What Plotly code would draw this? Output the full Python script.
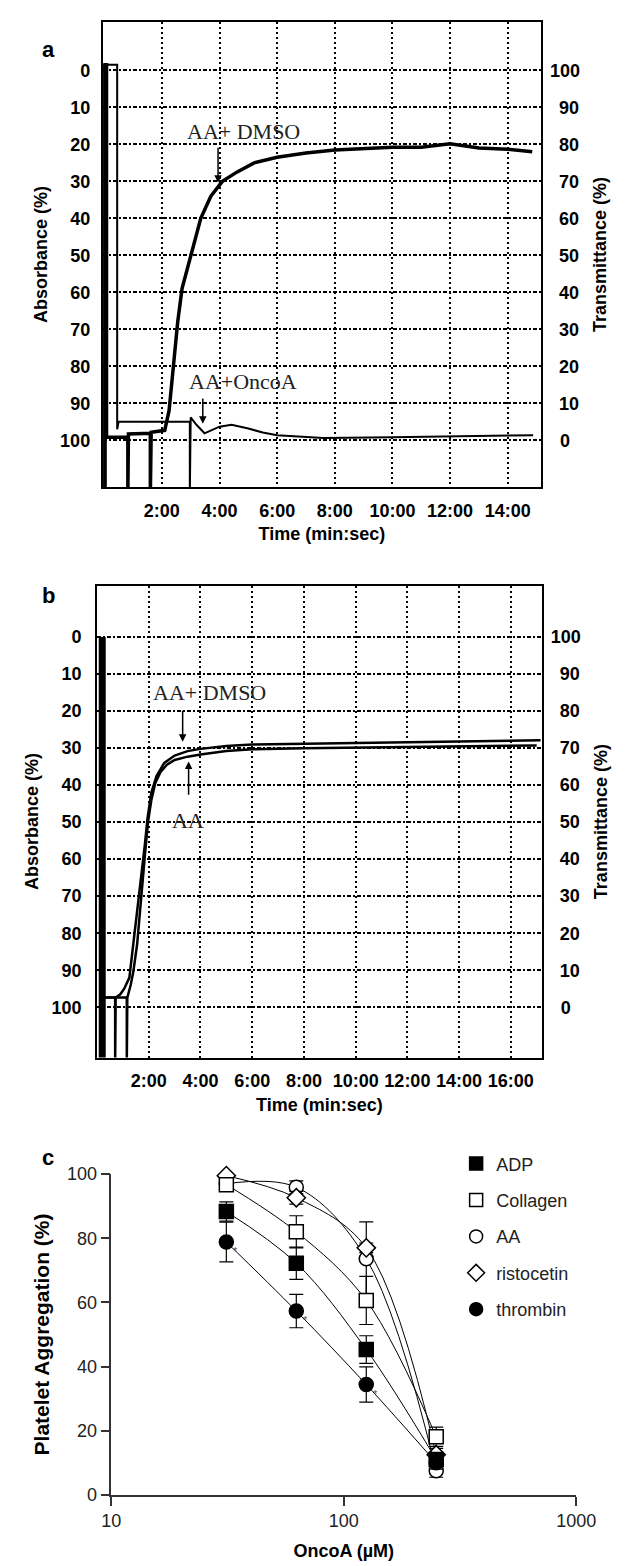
import numpy as np
import plotly.graph_objects as go

# ---------------- Panel a data (time in min, absorbance in %) ----------------
a_dmso_t = [0.03, 0.03, 0.08, 0.08, 0.82, 0.82, 0.84, 1.60, 1.60, 1.63, 2.10, 2.25, 2.40, 2.55, 2.70,
            3.00, 3.35, 3.70, 4.10, 4.60, 5.20, 6.00, 7.00, 8.00, 9.00, 10.0, 11.0, 12.0, 13.0, 14.0, 14.85]
a_dmso_abs = [115, -1.5, -1.5, 99.2, 99.2, 115, 98.3, 98.1, 115, 97.8, 97.3, 92, 80, 68, 59,
              50, 40, 34, 30, 27.5, 25, 23.5, 22.3, 21.5, 21.2, 20.8, 20.8, 19.8, 21.0, 21.3, 22.0]
a_onco_t = [0.0, 0.0, 0.45, 0.45, 0.50, 1.50, 2.50, 2.97, 2.97, 3.00, 3.20, 3.48, 4.00, 4.42, 5.00,
            5.50, 6.00, 7.60, 10.0, 12.0, 14.0, 14.88]
a_onco_abs = [115, -1.5, -1.5, 97, 95, 95, 95, 95, 115, 93.8, 95.8, 98.1, 96.3, 95.8, 96.8,
              97.9, 98.6, 99.4, 99.2, 99.0, 98.7, 98.6]

# ---------------- Panel b data ----------------
b_bar_t = [0.2, 0.2]
b_bar_abs = [0, 115]
b_dmso_t = [0.25, 0.70, 0.70, 0.72, 0.90, 1.05, 1.25, 1.45, 1.60, 1.75, 1.85, 1.95, 2.10, 2.30, 2.60,
            3.00, 3.50, 4.00, 5.00, 6.00, 8.00, 10.0, 12.0, 14.0, 16.0, 17.15]
b_dmso_abs = [97.4, 97.4, 115, 97.4, 96.5, 95, 92, 80, 71, 63, 56, 49, 42, 37.5, 34,
              32, 30.8, 30.2, 29.4, 29.0, 28.8, 28.5, 28.3, 28.2, 28.0, 27.9]
b_aa_t = [0.25, 1.15, 1.15, 1.17, 1.30, 1.40, 1.55, 1.70, 1.85, 1.97, 2.10, 2.25, 2.45, 2.70, 3.00,
          3.50, 4.00, 5.00, 6.00, 8.00, 10.0, 12.0, 14.0, 16.0, 17.0]
b_aa_abs = [97.4, 97.4, 115, 97.4, 94, 90.5, 83, 72, 59, 50, 44, 39.5, 36.5, 34.5, 33.2,
            32.3, 31.7, 30.8, 30.3, 30.0, 29.8, 29.7, 29.5, 29.4, 29.3]

abs_ticks = [0, 10, 20, 30, 40, 50, 60, 70, 80, 90, 100]
trans_ticks = [0, 10, 20, 30, 40, 50, 60, 70, 80, 90, 100]
trans_labels = ["\u20070", "\u200210", "\u200220", "\u200230", "\u200240", "\u200250",
                "\u200260", "\u200270", "\u200280", "\u200290", "100"]
a_time_ticks = [2, 4, 6, 8, 10, 12, 14]
a_time_labels = ["2:00", "4:00", "6:00", "8:00", "10:00", "12:00", "14:00"]
b_time_ticks = [2, 4, 6, 8, 10, 12, 14, 16]
b_time_labels = ["2:00", "4:00", "6:00", "8:00", "10:00", "12:00", "14:00", "16:00"]

# ---------------- Panel c data ----------------
onco_doses = [31.25, 62.5, 125, 250]
adp_vals = [88.3, 72.2, 45.3, 11.0]
adp_err = [3.0, 5.0, 4.3, 2.0]
collagen_vals = [96.7, 82.0, 60.6, 18.1]
collagen_err = [1.5, 5.0, 7.5, 3.0]
aa_vals = [97.0, 95.9, 73.6, 7.5]
aa_err = [1.0, 2.0, 11.5, 2.0]
risto_vals = [99.5, 92.6, 77.0, 12.5]
risto_err = [0.5, 2.0, 1.5, 2.0]
thrombin_vals = [78.8, 57.3, 34.4, 10.0]
thrombin_err = [6.2, 5.2, 5.5, 2.0]
c_yticks = [0, 20, 40, 60, 80, 100]
c_xticks = [10, 100, 1000]

W, H = 631, 1566
def px(x):
    return x / W
def py(y):
    return 1 - y / H

SANS = "Liberation Sans, Arial, sans-serif"
SERIF = "Liberation Serif, Times New Roman, serif"
bold_tick = dict(family=SANS, size=18, color="black", weight="bold")
bold_title = dict(family=SANS, size=18, color="black", weight="bold")
EM = "\u2003"

fig = go.Figure()

# Panel a traces
fig.add_trace(go.Scatter(x=a_onco_t, y=a_onco_abs, mode="lines", line=dict(color="black", width=2),
                         xaxis="x", yaxis="y", showlegend=False, hoverinfo="skip"))
fig.add_trace(go.Scatter(x=a_dmso_t, y=a_dmso_abs, mode="lines", line=dict(color="black", width=3.5),
                         xaxis="x", yaxis="y", showlegend=False, hoverinfo="skip"))
fig.add_trace(go.Scatter(x=[None], y=[None], xaxis="x", yaxis="y2", showlegend=False))

# Panel b traces
fig.add_trace(go.Scatter(x=b_bar_t, y=b_bar_abs, mode="lines", line=dict(color="black", width=7),
                         xaxis="x2", yaxis="y3", showlegend=False, hoverinfo="skip"))
fig.add_trace(go.Scatter(x=b_dmso_t, y=b_dmso_abs, mode="lines", line=dict(color="black", width=2.5),
                         xaxis="x2", yaxis="y3", showlegend=False, hoverinfo="skip"))
fig.add_trace(go.Scatter(x=b_aa_t, y=b_aa_abs, mode="lines", line=dict(color="black", width=2.5),
                         xaxis="x2", yaxis="y3", showlegend=False, hoverinfo="skip"))
fig.add_trace(go.Scatter(x=[None], y=[None], xaxis="x2", yaxis="y4", showlegend=False))

# Panel c traces (draw order so collagen square sits over AA circle)
series = [
    ("AA", aa_vals, aa_err, "circle", "white", 3),
    ("ristocetin", risto_vals, risto_err, "diamond", "white", 4),
    ("Collagen", collagen_vals, collagen_err, "square", "white", 2),
    ("ADP", adp_vals, adp_err, "square", "black", 1),
    ("thrombin", thrombin_vals, thrombin_err, "circle", "black", 5),
]
for name, vals, err, sym, fill, rank in series:
    fig.add_trace(go.Scatter(
        x=onco_doses, y=vals, mode="lines+markers", name=name,
        line=dict(color="black", width=1, shape="spline", smoothing=1.0),
        marker=dict(symbol=sym, size=14, color=fill, line=dict(color="black", width=1.5)),
        error_y=dict(type="data", array=err, visible=True, color="black", thickness=1.2, width=7),
        xaxis="x3", yaxis="y5", showlegend=False, cliponaxis=False, hoverinfo="skip"))
for name, vals, err, sym, fill, rank in series:
    fig.add_trace(go.Scatter(
        x=[None], y=[None], mode="markers", name=name, legendrank=rank, legendgroup=name,
        marker=dict(symbol=sym, size=13, color=fill, line=dict(color="black", width=1.5)),
        xaxis="x3", yaxis="y5", showlegend=True))

grid_common = dict(gridcolor="black", gridwidth=1.5, zeroline=False, ticks="",
                   showline=True, linecolor="black", linewidth=2, mirror=True)

fig.update_layout(
    width=W, height=H, margin=dict(l=0, r=0, t=0, b=0),
    paper_bgcolor="white", plot_bgcolor="white",
    font=dict(family=SANS, color="black"),
    # ---- panel a
    xaxis=dict(domain=[px(89), px(549)], range=[-0.05, 15.15], anchor="y",
               tickvals=a_time_ticks, ticktext=a_time_labels, tickfont=bold_tick,
               showgrid=True, griddash="2px,3px", ticklabelstandoff=6,
               title=dict(text=EM + EM + "Time (min:sec)", font=bold_title, standoff=8), **grid_common),
    yaxis=dict(domain=[py(475), py(4)], range=[112.6, -13.1], anchor="x",
               tickvals=abs_ticks, tickfont=bold_tick, showgrid=True, griddash="4px,2px,2px,2px",
               ticklabelstandoff=7,
               title=dict(text="Absorbance (%)", font=bold_title, standoff=8), **grid_common),
    yaxis2=dict(overlaying="y", side="right", anchor="x", range=[-12.6, 113.1],
                tickvals=trans_ticks, ticktext=trans_labels, tickfont=bold_tick,
                showgrid=False, zeroline=False,
                ticks="", showline=False, ticklabelstandoff=8,
                title=dict(text="Transmittance (%)", font=bold_title, standoff=14)),
    # ---- panel b
    xaxis2=dict(domain=[px(83), px(550)], range=[0, 17.2], anchor="y3",
                tickvals=b_time_ticks, ticktext=b_time_labels, tickfont=bold_tick,
                showgrid=True, griddash="2px,3px", ticklabelstandoff=6,
                title=dict(text=EM + EM + "Time (min:sec)", font=bold_title, standoff=8), **grid_common),
    yaxis3=dict(domain=[py(1053), py(575)], range=[113.6, -13.9], anchor="x2",
                tickvals=abs_ticks, tickfont=bold_tick, showgrid=True, griddash="4px,2px,2px,2px",
                ticklabelstandoff=10,
                title=dict(text="Absorbance (%)", font=bold_title, standoff=8), **grid_common),
    yaxis4=dict(overlaying="y3", side="right", anchor="x2", range=[-13.6, 113.9],
                tickvals=trans_ticks, ticktext=trans_labels, tickfont=bold_tick,
                showgrid=False, zeroline=False,
                ticks="", showline=False, ticklabelstandoff=8,
                title=dict(text="Transmittance (%)", font=bold_title, standoff=14)),
    # ---- panel c
    xaxis3=dict(domain=[px(98), px(586)], type="log", range=[1, 3], anchor="y5",
                tickvals=c_xticks, ticktext=["10", "100", "1000"],
                tickfont=dict(family=SANS, size=18, color="#222"),
                ticks="outside", ticklen=9, tickcolor="#333", tickwidth=1.5,
                showline=True, linecolor="#333", linewidth=1.5, showgrid=False, zeroline=False,
                title=dict(text="OncoA (\u00b5M)", font=bold_title, standoff=14)),
    yaxis5=dict(domain=[py(1496), py(1171)], range=[0, 100], anchor="x3",
                tickvals=c_yticks, tickfont=dict(family=SANS, size=18, color="#222"),
                ticks="outside", ticklen=9, tickcolor="#333", tickwidth=1.5,
                showline=True, linecolor="#333", linewidth=1.5, showgrid=False, zeroline=False,
                title=dict(text="Platelet Aggregation (%)",
                           font=dict(family=SANS, size=21, color="black", weight="bold"), standoff=12)),
    legend=dict(x=px(460), y=py(1142), xanchor="left", yanchor="top",
                font=dict(family=SANS, size=18, color="#222"), tracegroupgap=10,
                bgcolor="rgba(0,0,0,0)", itemclick=False),
)

ann = []
for label, yy in [("a", 17), ("b", 585), ("c", 1169)]:
    ann.append(dict(text=label, x=px(23), y=py(yy), xref="paper", yref="paper", showarrow=False,
                    font=dict(family=SANS, size=22, color="black", weight="bold")))
serif_font = dict(family=SERIF, size=22, color="#222")
# panel a labels and arrows
ann.append(dict(text="AA+ DMSO", x=4.84, y=16.5, xref="x", yref="y", showarrow=False, font=serif_font))
ann.append(dict(text="", x=3.95, y=30.4, ax=3.95, ay=20.5, xref="x", yref="y", axref="x", ayref="y",
                showarrow=True, arrowhead=2, arrowsize=1, arrowwidth=1.5, arrowcolor="black", standoff=0))
ann.append(dict(text="AA+OncoA", x=4.8, y=84, xref="x", yref="y", showarrow=False, font=serif_font))
ann.append(dict(text="", x=3.42, y=95.5, ax=3.42, ay=88.3, xref="x", yref="y", axref="x", ayref="y",
                showarrow=True, arrowhead=2, arrowsize=1, arrowwidth=1.5, arrowcolor="black", standoff=0))
# panel b labels and arrows
ann.append(dict(text="AA+ DMSO", x=4.35, y=15, xref="x2", yref="y3", showarrow=False, font=serif_font))
ann.append(dict(text="", x=3.31, y=28.3, ax=3.31, ay=19.5, xref="x2", yref="y3", axref="x2", ayref="y3",
                showarrow=True, arrowhead=2, arrowsize=1, arrowwidth=1.5, arrowcolor="black", standoff=0))
ann.append(dict(text="AA", x=3.5, y=49.6, xref="x2", yref="y3", showarrow=False, font=serif_font))
ann.append(dict(text="", x=3.54, y=33.6, ax=3.54, ay=43, xref="x2", yref="y3", axref="x2", ayref="y3",
                showarrow=True, arrowhead=2, arrowsize=1, arrowwidth=1.5, arrowcolor="black", standoff=0))
# asterisks next to thrombin points
for xv, yv in zip(onco_doses[:3], thrombin_vals[:3]):
    ann.append(dict(text="*", x=np.log10(xv), y=yv, xref="x3", yref="y5", showarrow=False,
                    xshift=9, yshift=-9, font=dict(family=SANS, size=11, color="#555")))
fig.update_layout(annotations=ann)

fig.write_html("out.html")
